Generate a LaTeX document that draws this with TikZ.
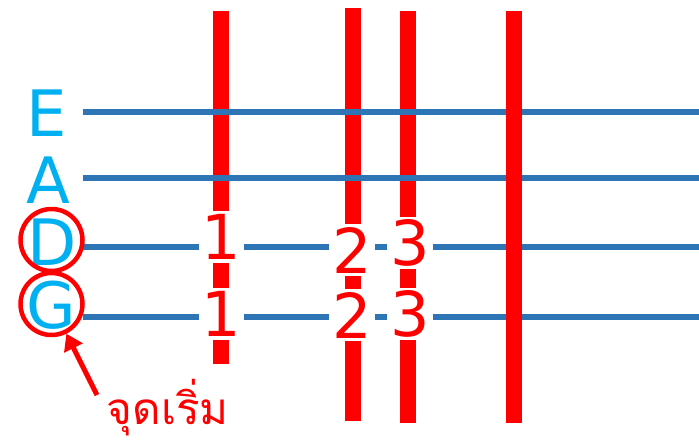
\documentclass[tikz,border=0pt]{standalone}
\usepackage{fontspec}
\setmainfont{DejaVu Sans}
\newfontfamily\thaifont[Script=Thai]{Loma}
\usetikzlibrary{arrows.meta}
\definecolor{strblue}{HTML}{2E75B6}
\definecolor{notecyan}{HTML}{00B0F0}

\begin{document}
\begin{tikzpicture}[x=1pt,y=-1pt,
  fret/.style={red,line width=16pt},
  strline/.style={strblue,line width=5.5pt},
  notename/.style={text=notecyan,font=\fontsize{64}{64}\selectfont,inner sep=0pt},
  finger/.style={fill=white,text=red,font=\fontsize{62}{62}\selectfont,inner sep=3pt},
  ring/.style={draw=red,line width=4.5pt,circle,minimum size=62pt,inner sep=0pt}]
\useasboundingbox (0,0) rectangle (699,445);
% frets under the strings
\draw[fret] (221,11) -- (221,364);
\draw[fret] (352.5,8) -- (352.5,421);
\draw[fret] (407.5,11) -- (407.5,423);
% strings
\foreach \yy in {112,178,247,317}
  {\draw[strline] (83,\yy) -- (699,\yy);}
% last fret over the strings
\draw[fret] (514,11) -- (514,423);
% string names
\node[notename] (E) at (47,113) {E};
\node[notename] (A) at (48,180) {A};
\node[notename] (D) at (52,242) {D};
\node[notename] (G) at (51,305) {G};
\node[ring] (dring) at (51.5,240) {};
\node[ring] (gring) at (51.5,304) {};
% finger numbers
\node[finger] (d1) at (221.5,237) {1};
\node[finger] (d2) at (352,250) {2};
\node[finger] (d3) at (410,243) {3};
\node[finger] (g1) at (221.5,314) {1};
\node[finger] (g2) at (352,315) {2};
\node[finger] (g3) at (410,314) {3};
% start label
\node[text=red,font=\thaifont\fontsize{44}{44}\selectfont,inner sep=0pt] (start) at (168,408) {จุดเริ่ม};
\coordinate (tail) at (97,395);
\draw[red,line width=5pt,-{Triangle[length=16pt,width=20pt]}] (tail) -- (gring);
\end{tikzpicture}
\end{document}
